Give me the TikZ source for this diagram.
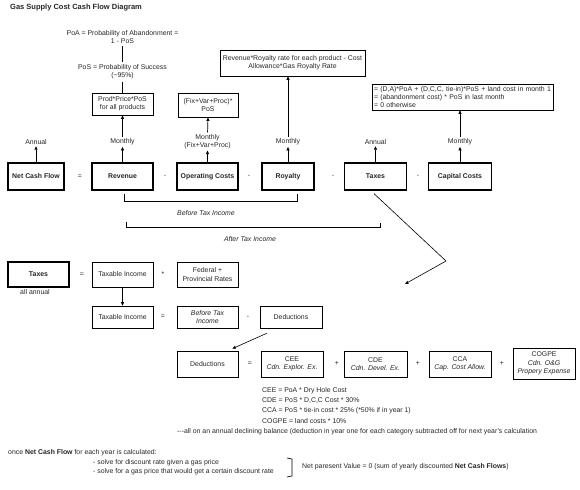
\documentclass[tikz,border=0pt]{standalone}
\usepackage{fontspec}
\setmainfont{Liberation Sans}
\usetikzlibrary{arrows.meta,calc}
\begin{document}
\begin{tikzpicture}[x=1bp,y=-1bp,
  every node/.style={font=\fontsize{6.9bp}{8.3bp}\selectfont, inner sep=0pt, align=center, text=black!85},
  thickbox/.style={draw, line width=1.3bp, minimum height=27bp, font=\fontsize{6.9bp}{8.3bp}\selectfont\bfseries},
  thinbox/.style={draw, line width=0.6bp, minimum height=22bp},
  itnode/.style={font=\fontsize{6.9bp}{8.3bp}\selectfont\itshape},
  arr/.style={-{Triangle[length=3.5bp,width=3bp]}, line width=0.7bp},
  ln/.style={line width=0.6bp},
  brk/.style={line width=0.9bp},
]
\path[use as bounding box] (0,0) rectangle (580,490);

\node[anchor=west, font=\fontsize{7.5bp}{9bp}\selectfont\bfseries] (title) at (10,8) {Gas Supply Cost Cash Flow Diagram};

% top row
\node[thickbox, minimum width=56bp] (ncf) at (36,176.5) {Net Cash Flow};
\node[thickbox, minimum width=61bp] (rev) at (122.5,176.5) {Revenue};
\node[thickbox, minimum width=61bp] (opc) at (207.5,176.5) {Operating Costs};
\node[thickbox, minimum width=52bp] (roy) at (288,176.5) {Royalty};
\node[thickbox, minimum width=62bp] (tax) at (375.5,176.5) {Taxes};
\node[thickbox, minimum width=63bp] (cap) at (460,176.5) {Capital Costs};
\node (eq1) at (80,176.5) {=};
\node (mi1) at (165,176.5) {-};
\node (mi2) at (249,176.5) {-};
\node (mi3) at (333,176.5) {-};
\node (mi4) at (418,176.5) {-};

\node (lncf) at (36,142) {Annual};
\node (lrev) at (122.5,142) {Monthly};
\node (lopc) at (207.5,141.5) {Monthly\\(Fix+Var+Proc)};
\node (lroy) at (288,142) {Monthly};
\node (ltax) at (375.5,142) {Annual};
\node (lcap) at (460,142) {Monthly};
\foreach \b/\l in {ncf/lncf, rev/lrev, opc/lopc, roy/lroy, tax/ltax, cap/lcap}
  \draw[arr, shorten >=1.5bp] (\b.north) -- (\l.south);

% upper boxes
\node[thinbox, minimum width=61bp] (prod) at (122.5,104) {Prod*Price*PoS\\for all products};
\node[thinbox, minimum width=60bp, minimum height=24bp] (fvp) at (208,105) {(Fix+Var+Proc)*\\PoS};
\node[thinbox, minimum width=145bp, minimum height=26bp] (rform) at (292.5,63) {Revenue*Royalty rate for each product - Cost\\Allowance*Gas Royalty Rate};
\node[thinbox, inner xsep=1.5bp, text width=178bp, align=left, minimum height=26bp] (cform) at (463,97) {= (D,A)*PoA + (D,C,C, tie-in)*PoS + land cost in month 1\\= (abandonment cost) * PoS in last month\\= 0 otherwise};
\draw[arr, shorten <=1.5bp] (lrev.north) -- (prod.south);
\draw[arr, shorten <=1.5bp] (lopc.north) -- (fvp.south);
\draw[arr, shorten <=1.5bp] (lroy.north) -- (lroy.north |- rform.south);
\draw[arr, shorten <=1.5bp] (lcap.north) -- (lcap.north |- cform.south);

\node (poa) at (122.5,37) {PoA = Probability of Abandonment =\\1 - PoS};
\node (pos) at (122.5,72) {PoS = Probability of Success\\(\textasciitilde 95\%)};
\draw[ln, shorten <=2bp, shorten >=2bp] (poa.south) -- (pos.north);
\draw[ln, shorten <=2bp] (pos.south) -- (prod.north);

% brackets
\draw[brk] ($(rev.south)+(1.5,3)$) -- ++(0,8) -| ($(roy.south)+(9,3)$);
\node[itnode] (btil) at (206,213) {Before Tax Income};
\draw[brk] ($(rev.south)+(3.5,31)$) -- ++(0,6) -| ($(tax.south)+(4.5,32)$);
\node[itnode] (atil) at (250,239) {After Tax Income};

% diagonal connector
\coordinate (dtop) at ($(tax.south)+(-1.5,3)$);
\coordinate (dmid) at (446,261);
\coordinate (dend) at (405,284);
\draw[arr, line width=0.6bp] (dtop) -- (dmid) -- (dend);

% second section
\node[thickbox, minimum width=61bp, minimum height=25bp] (tax2) at (38.5,274.5) {Taxes};
\node (allann) at (35,292) {all annual};
\node (eq2) at (82,274.5) {=};
\node[thinbox, minimum width=61bp, minimum height=25bp] (ti1) at (122.5,274.5) {Taxable Income};
\node (st1) at (163,274) {*};
\node[thinbox, minimum width=61bp, minimum height=25bp] (fed) at (207.5,274.5) {Federal +\\Provincial Rates};
\node[thinbox, minimum width=61bp] (ti2) at (122.5,317) {Taxable Income};
\draw[arr] (ti1.south) -- (ti2.north);
\node (eq3) at (163,317) {=};
\node[thinbox, itnode, minimum width=61bp] (bti) at (207.5,317) {Before Tax\\Income};
\node (mi5) at (248,317) {-};
\node[thinbox, minimum width=62bp] (ded1) at (291,317) {Deductions};

% third row
\node[thinbox, minimum width=61bp, minimum height=26bp] (ded2) at (207.5,364) {Deductions};
\coordinate (dstart) at ($(ded1.south west)+(7,5)$);
\coordinate (darr) at ($(ded2.north east)+(-6,-2)$);
\draw[arr, line width=0.6bp] (dstart) -- (darr);
\node (eq4) at (250,364) {=};
\node[thinbox, minimum width=62bp, minimum height=26bp] (cee) at (292,364) {CEE\\\textit{Cdn. Explor. Ex.}};
\node (pl1) at (337,364) {+};
\node[thinbox, minimum width=63bp, minimum height=26bp] (cde) at (375.5,364) {CDE\\\textit{Cdn. Devel. Ex.}};
\node (pl2) at (418,364) {+};
\node[thinbox, minimum width=62bp, minimum height=26bp] (cca) at (460,364) {CCA\\\textit{Cap. Cost Allow.}};
\node (pl3) at (502,364) {+};
\node[thinbox, minimum width=62bp, minimum height=31bp] (cogpe) at (544,363.5) {COGPE\\\textit{Cdn. O\&G}\\\textit{Propery Expense}};

% formulas
\node[anchor=west] (f1) at (262,391) {CEE = PoA * Dry Hole Cost};
\node[anchor=west] (f2) at (262,401) {CDE = PoS * D,C,C Cost * 30\%};
\node[anchor=west] (f3) at (262,411) {CCA = PoS * tie-in cost * 25\% (*50\% if in year 1)};
\node[anchor=west] (f4) at (262,421) {COGPE = land costs * 10\%};
\node[anchor=west] (f5) at (177,432) {-{}-{}-all on an annual declining balance (deduction in year one for each category subtracted off for next year's calculation};

% bottom
\node[anchor=west] (once) at (8,453) {once \textbf{Net Cash Flow} for each year is calculated:};
\node[anchor=west] (s1) at (93,463) {- solve for discount rate given a gas price};
\node[anchor=west] (s2) at (93,472) {- solve for a gas price that would get a certain discount rate};
\coordinate (bk1) at (287,458);
\coordinate (bk2) at (292,459);
\coordinate (bk3) at (292,476);
\coordinate (bk4) at (287,477);
\draw[ln] (bk1) -- (bk2) -- (bk3) -- (bk4);
\node[anchor=west] (npv) at (302,467) {Net paresent Value = 0 (sum of yearly discounted \textbf{Net Cash Flows})};
\end{tikzpicture}
\end{document}
